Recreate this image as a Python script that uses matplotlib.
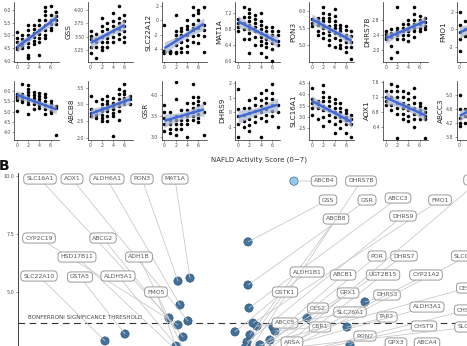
import numpy as np
import matplotlib
matplotlib.use("Agg")
import matplotlib.pyplot as plt
from matplotlib.colors import LinearSegmentedColormap, Normalize

W, H, DPI = 467, 346, 100

# ---------------- Panel A data (expression vs NAS 0-7) ----------------
nas = list(range(8))

r1_genes = ["", "GSS", "SLC22A12", "MAT1A", "PON3", "DHRS7B", "FMO1"]
r2_genes = ["", "ABCB8", "GSR", "DHRS9", "SLC16A1", "AOX1", "ABCC3"]

gene_r1a = [[5.15, 4.9, 4.75, 4.55, 4.45], [5.0, 4.85, 4.7, 4.6, 4.5],
            [5.4, 5.2, 5.0, 4.85, 4.7, 4.55, 4.25, 4.15, 4.1], [5.4, 5.25, 5.1, 4.95, 4.8, 4.65],
            [5.6, 5.4, 5.2, 5.05, 4.9, 4.75, 4.25], [6.1, 5.95, 5.8, 5.6, 5.4, 5.2, 5.0, 4.9],
            [6.15, 5.8, 5.6, 5.45, 5.3, 5.2], [5.9, 5.75, 5.6, 5.45]]
gss = [[3.6, 3.52, 3.45, 3.3, 3.2], [3.55, 3.45, 3.4, 3.3, 3.1],
       [3.85, 3.7, 3.6, 3.5, 3.4, 3.3, 3.25], [3.75, 3.65, 3.55, 3.48, 3.4, 3.3],
       [3.95, 3.8, 3.7, 3.6, 3.5, 3.4], [4.07, 3.85, 3.75, 3.65, 3.55, 3.45],
       [3.9, 3.8, 3.7, 3.6, 3.5, 3.4], []]
slc22a12 = [[-0.7, -4.2, -4.3, -4.4, -4.5, -4.4], [-4.2, -4.4, -4.5, -4.3],
            [0.7, -1.5, -2.0, -2.6, -3.4, -4.4, -4.5], [-1.0, -1.5, -2.0, -3.0, -3.8, -4.4],
            [0.1, -0.8, -1.2, -2.0, -2.8, -3.6, -4.4], [1.9, 0.8, -0.5, -1.0, -1.4, -2.2, -3.0],
            [1.5, 1.0, 0.0, -1.0, -2.0, -3.2], [1.9, -0.6, -1.4, -2.2, -4.4]]
mat1a = [[7.05, 6.95, 6.85, 6.75], [7.35, 7.1, 6.95, 6.8, 6.55],
         [7.3, 7.2, 7.1, 7.0, 6.9, 6.8, 6.7, 6.55, 6.2], [7.15, 7.05, 6.95, 6.85, 6.75, 6.6, 6.4],
         [7.2, 7.0, 6.9, 6.8, 6.7, 6.6, 6.5, 6.4, 6.2], [6.85, 6.75, 6.65, 6.55, 6.45, 6.35, 6.1],
         [6.85, 6.75, 6.65, 6.55, 6.45, 6.3, 6.0], [6.75, 6.65, 6.5, 6.4]]
pon3 = [[5.75, 5.65, 5.55], [5.8, 5.7, 5.6, 5.4, 5.3],
        [6.1, 5.95, 5.8, 5.7, 5.6, 5.5, 5.35, 5.2], [5.9, 5.8, 5.7, 5.55, 5.4, 5.3, 5.15, 5.0],
        [6.05, 5.85, 5.7, 5.6, 5.5, 5.35, 5.2, 4.95], [5.6, 5.5, 5.4, 5.3, 5.15, 5.0, 4.9],
        [5.55, 5.45, 5.3, 5.2, 5.1, 4.95, 4.8], [5.4, 5.25, 5.1, 4.95, 4.6]]
dhrs7b = [[2.5, 2.42, 2.35, 2.3], [2.55, 2.45, 2.35, 2.1, 1.78],
          [3.15, 2.6, 2.5, 2.4, 2.3, 1.95], [2.7, 2.6, 2.5, 2.4, 2.3],
          [2.8, 2.7, 2.6, 2.5, 2.4, 2.25], [3.15, 2.95, 2.8, 2.7, 2.6, 2.5, 2.35],
          [2.9, 2.8, 2.7, 2.6, 2.5], [2.85, 2.75, 2.65, 2.55]]
fmo1 = [[2.0, 0.5, -0.3, -1.1, -2.5], [1.0, 0.0, -0.8], [1.5, 0.5, -0.5, -1.5],
        [1.8, 0.8, 0.0, -1.0], [2.0, 1.0, 0.2, -0.6], [2.2, 1.2, 0.4, -0.4],
        [2.4, 1.4, 0.6], [2.0, 1.0]]

gene_r2a = [[5.85, 5.75, 5.65, 5.55, 5.05], [6.35, 5.85, 5.7, 5.55, 5.45],
            [6.3, 6.1, 5.95, 5.8, 5.65, 5.5, 5.35, 4.9], [5.95, 5.8, 5.65, 5.5, 5.35, 5.1],
            [5.9, 5.75, 5.6, 5.45, 5.3, 5.15], [5.85, 5.7, 5.5, 5.3, 5.1, 4.9],
            [5.5, 5.35, 5.2, 5.05, 4.95], [5.25, 5.15, 3.85]]
abcb8 = [[3.25, 2.85, 2.75, 2.65], [3.1, 2.8, 2.7, 2.6],
         [3.15, 3.0, 2.9, 2.8, 2.7, 2.6, 2.5], [3.25, 3.1, 3.0, 2.9, 2.8, 2.65, 2.5],
         [3.2, 3.05, 2.95, 2.85, 2.75, 2.65, 2.05], [3.45, 3.3, 3.15, 3.05, 2.95, 2.8, 2.55],
         [3.6, 3.4, 3.3, 3.2, 3.1, 3.0], [3.25, 3.15, 3.0]]
gsr = [[3.75, 3.6, 3.45, 3.3, 3.15], [3.6, 3.4, 3.3, 3.2, 3.1],
       [4.3, 3.9, 3.5, 3.4, 3.3, 3.2, 3.05], [3.65, 3.5, 3.4, 3.3, 3.2],
       [3.8, 3.65, 3.5, 3.4, 3.3, 3.0], [4.25, 3.95, 3.8, 3.7, 3.6, 3.5, 3.4],
       [3.95, 3.85, 3.75, 3.65, 3.55, 3.45, 3.35], [3.8, 3.6, 3.05]]
dhrs9 = [[1.6, 0.2, -0.3, -0.8, -1.7], [0.3, -0.2, -0.6, -1.0],
         [0.8, 0.3, -0.1, -0.5, -0.9, -1.3], [1.0, 0.5, 0.1, -0.3, -0.7],
         [1.3, 0.8, 0.4, 0.0, -0.4, -1.7], [1.5, 1.0, 0.6, 0.2, -0.2, -0.6],
         [1.9, 1.3, 0.9, 0.5, 0.1, -0.3], [0.5, 0.0, -1.0]]
slc16a1 = [[4.3, 3.8, 3.6, 3.4, 3.1], [3.7, 3.55, 3.4, 2.9],
           [4.4, 4.1, 3.9, 3.7, 3.5, 3.3, 3.0, 2.6], [3.9, 3.7, 3.5, 3.3, 3.1, 2.8],
           [3.8, 3.6, 3.4, 3.2, 3.0, 2.7, 2.3], [3.6, 3.4, 3.2, 3.0, 2.8, 2.5],
           [3.3, 3.15, 3.0, 2.85, 2.7, 2.3], [3.1, 2.9, 2.7, 2.1]]
aox1 = [[7.35, 7.2, 7.1, 7.0], [7.55, 7.35, 7.2, 7.0, 6.85],
        [7.5, 7.35, 7.2, 7.05, 6.9, 6.75, 6.1], [7.35, 7.2, 7.05, 6.9, 6.75, 6.6],
        [7.3, 7.15, 7.0, 6.85, 6.7, 6.55], [7.45, 7.2, 7.05, 6.9, 6.75, 6.6, 6.4],
        [7.05, 6.95, 6.85, 6.75, 6.6], [6.9, 6.8, 6.7, 6.6, 6.1]]
abcc3 = [[5.0, 4.6, 4.35, 4.2, 4.1], [4.6, 4.4, 4.2], [4.8, 4.5, 4.3],
         [4.9, 4.6, 4.4], [5.0, 4.7, 4.5], [5.1, 4.8, 4.6], [5.2, 4.9, 4.7], [5.0, 4.8]]

r1_values = [gene_r1a, gss, slc22a12, mat1a, pon3, dhrs7b, fmo1]
r2_values = [gene_r2a, abcb8, gsr, dhrs9, slc16a1, aox1, abcc3]

r1_ylim = [(3.96, 6.31), (3.025, 4.15), (-5.8, 2.55), (5.97, 7.47), (4.5, 6.26), (1.68, 3.28), (-3.7, 3.1)]
r2_ylim = [(3.6, 6.5), (1.94, 3.7), (2.93, 4.33), (-1.93, 2.14), (1.97, 4.59), (6.05, 7.63), (3.71, 5.4)]
r1_ticks = [[4.0, 4.5, 5.0, 5.5, 6.0], [3.25, 3.5, 3.75, 4.0], [-4, -2, 0, 2], [6.0, 6.4, 6.8, 7.2],
            [5.0, 5.5, 6.0], [2.0, 2.4, 2.8], [-2, 0, 2]]
r1_tlabels = [["4.0", "4.5", "5.0", "5.5", "6.0"], ["3.25", "3.50", "3.75", "4.00"], ["-4", "-2", "0", "2"],
              ["6.0", "6.4", "6.8", "7.2"], ["5.0", "5.5", "6.0"], ["2.0", "2.4", "2.8"], ["-2", "0", "2"]]
r2_ticks = [[4.0, 4.5, 5.0, 5.5, 6.0], [2.0, 2.5, 3.0, 3.5], [3.0, 3.5, 4.0], [-1, 0, 1, 2],
            [2.5, 3.0, 3.5, 4.0, 4.5], [6.4, 6.8, 7.2, 7.6], [3.8, 4.2, 4.6, 5.0]]
r2_tlabels = [["4.0", "4.5", "5.0", "5.5", "6.0"], ["2.0", "2.5", "3.0", "3.5"], ["3.0", "3.5", "4.0"],
              ["-1", "0", "1", "2"], ["2.5", "3.0", "3.5", "4.0", "4.5"], ["6.4", "6.8", "7.2", "7.6"],
              ["3.8", "4.2", "4.6", "5.0"]]
x_ticks = [0, 2, 4, 6]

# ---------------- Panel B data ----------------
b_genes = ["MAT1A", "PON3", "ALDH6A1", "AOX1", "SLC16A1", "CYP2C19", "ABCG2", "HSD17B11", "ADH1B",
           "SLC22A10", "GSTA5", "ALDH5A1", "FMO5",
           "ABCB4", "GSS", "GSR", "ABCC3", "FMO1", "ABCB8", "DHRS9", "ALDH1B1", "DHRS3", "CES2", "TAP2",
           "SLC26A1", "ABCC5", "CBR1", "PON2", "DHRS7B", "POR", "DHRS7", "SLCO1B3", "ABCB1", "UGT2B15",
           "CYP21A2", "CES1", "GSTK1", "GPX1", "ALDH3A1", "CHST4", "CHST9", "SLC27A5", "ARSA", "GPX3",
           "ABCA4", "SLC10A1"]
b_effect = [-0.14, -0.20, -0.19, -0.15, -0.245, -0.20, -0.175, -0.13, -0.165, -0.565, -0.465, -0.155, -0.21,
            0.38, 0.15, 0.15, 0.155, 0.175, 0.16, 0.145, 0.085, 0.735, 0.445, 0.645, 0.275, 0.195, 0.285,
            0.66, 0.16, 0.185, 0.17, 0.20, 0.195, 0.21, 0.22, 0.21, 0.135, 0.26, 0.235, 0.22, 0.25, 0.26,
            0.185, 0.26, 0.27, 0.22]
b_logp = [5.60, 5.47, 4.44, 3.75, 3.88, 3.58, 3.06, 1.85, 2.41, 2.89, 3.19, 2.16, 2.67,
          9.78, 7.16, 5.30, 4.31, 3.66, 3.15, 2.84, 3.28, 4.57, 3.88, 3.49, 3.49, 3.53, 3.32, 2.72,
          2.50, 2.28, 2.07, 1.85, 2.50, 1.64, 2.16, 2.72, 2.59, 2.93, 2.41, 1.98, 2.07, 2.50, 1.64,
          1.42, 1.21, 1.81]
bonferroni = 3.66
b_yticks = [5.0, 7.5, 10.0]

# layout: label box centres in figure pixels (from top-left)
lbl_px = [(175, 179), (142, 179), (107, 179), (72, 179), (40, 179), (39, 238), (103, 238), (77, 257),
          (139, 257), (39, 276), (80, 277), (118, 276), (156, 292),
          (324, 181), (328, 200), (367, 200), (398, 198), (440, 200), (336, 219), (403, 216), (307, 272),
          (387, 295), (318, 308), (387, 317), (350, 312), (285, 323), (320, 327), (365, 336), (361, 181),
          (377, 256), (404, 256), (468, 256), (343, 275), (383, 275), (426, 275), (467, 288), (285, 292),
          (348, 293), (427, 307), (467, 310), (424, 326), (471, 327), (292, 342), (396, 343), (427, 343),
          (480, 180)]

# ---------------- drawing ----------------
fig = plt.figure(figsize=(W / DPI, H / DPI), dpi=DPI)
fig.patch.set_facecolor("white")


def px_axes(left, top, width, height):
    return fig.add_axes([left / W, 1 - (top + height) / H, width / W, height / H])


TICK_COL = "#4d4d4d"


def scatter_panel(ax, vals, name, ylim, ticks, tlabels):
    xs, ys = [], []
    for xv, col in zip(nas, vals):
        xs += [xv] * len(col)
        ys += col
    xs = np.array(xs, float)
    ys = np.array(ys, float)
    ax.scatter(xs, ys, s=6.5, color="black", linewidths=0, zorder=2)
    b1, b0 = np.polyfit(xs, ys, 1)
    yhat = b0 + b1 * xs
    n = len(xs)
    s = np.sqrt(np.sum((ys - yhat) ** 2) / (n - 2))
    xg = np.linspace(xs.min(), xs.max(), 50)
    se = s * np.sqrt(1 / n + (xg - xs.mean()) ** 2 / np.sum((xs - xs.mean()) ** 2))
    fit = b0 + b1 * xg
    ax.fill_between(xg, fit - 1.97 * se, fit + 1.97 * se, color="#a9b4cf", alpha=0.7, lw=0, zorder=3)
    ax.plot(xg, fit, color="#3f68d8", lw=1.7, zorder=4, solid_capstyle="butt")
    ax.set_xlim(-0.5, 7.5)
    ax.set_ylim(*ylim)
    ax.set_xticks(x_ticks)
    ax.set_yticks(ticks)
    ax.set_yticklabels(tlabels)
    for sp in ["top", "right"]:
        ax.spines[sp].set_visible(False)
    for sp in ["left", "bottom"]:
        ax.spines[sp].set_linewidth(0.5)
        ax.spines[sp].set_color("#222222")
    ax.tick_params(labelsize=3.3, colors=TICK_COL, length=1.5, width=0.4, pad=1)
    if name:
        ax.set_ylabel(name, fontsize=5.2, color="#222222", labelpad=1.5)
    ax.patch.set_alpha(0)


for i in range(7):
    left = 14 + 73.8 * i
    a1 = px_axes(left, 2, 45, 60)
    scatter_panel(a1, r1_values[i], r1_genes[i], r1_ylim[i], r1_ticks[i], r1_tlabels[i])
    a2 = px_axes(left, 81, 45, 59)
    scatter_panel(a2, r2_values[i], r2_genes[i], r2_ylim[i], r2_ticks[i], r2_tlabels[i])

fig.text(259 / W, 1 - 160 / H, "NAFLD Activity Score (0\u22127)", fontsize=5, color="#333333",
         ha="center", va="center")
fig.text(-1 / W, 1 - 166 / H, "B", fontsize=10, fontweight="bold", ha="left", va="center", color="#111111")

# Panel B axes
axb = px_axes(18, 173, 700, 235)
axb.set_xlim(-1.0, 2.5)
axb.set_ylim(0, 10.13)
for sp in ["top", "right", "bottom"]:
    axb.spines[sp].set_visible(False)
axb.spines["left"].set_linewidth(0.6)
axb.spines["left"].set_color("#222222")
axb.set_xticks([])
axb.set_yticks(b_yticks)
axb.set_yticklabels([f"{v:.1f}" for v in b_yticks])
axb.tick_params(axis="y", labelsize=3.5, colors=TICK_COL, length=1.8, width=0.4, pad=1)
axb.patch.set_alpha(0)

axb.axhline(bonferroni, color="#333333", lw=0.8, ls=(0, (6, 4)), zorder=1)
axb.annotate("BONFERRONI SIGNIFICANCE THRESHOLD", xy=(28, H - 320), xycoords="figure pixels",
             fontsize=4.1, color="#444444", ha="left", va="bottom")

cmap = LinearSegmentedColormap.from_list("pts", ["#41709a", "#4a7ba6", "#8fcaf0"])
norm = Normalize(vmin=6.5, vmax=9.8, clip=True)
axb.scatter(b_effect, b_logp, s=36, c=b_logp, cmap=cmap, norm=norm, edgecolors="#2c5274",
            linewidths=0.4, zorder=3)

for g, xv, yv, (lx, ly) in zip(b_genes, b_effect, b_logp, lbl_px):
    axb.annotate(g, xy=(xv, yv), xycoords="data", xytext=(lx, H - ly), textcoords="figure pixels",
                 fontsize=4.4, color="#555555", ha="center", va="center", zorder=5,
                 bbox=dict(boxstyle="round,pad=0.42,rounding_size=0.6", fc="white", ec="#8a8a8a", lw=0.6),
                 arrowprops=dict(arrowstyle="-", color="#c6c6c6", lw=0.55, shrinkA=0, shrinkB=0),
                 annotation_clip=False)

fig.savefig("out.png", dpi=DPI)
